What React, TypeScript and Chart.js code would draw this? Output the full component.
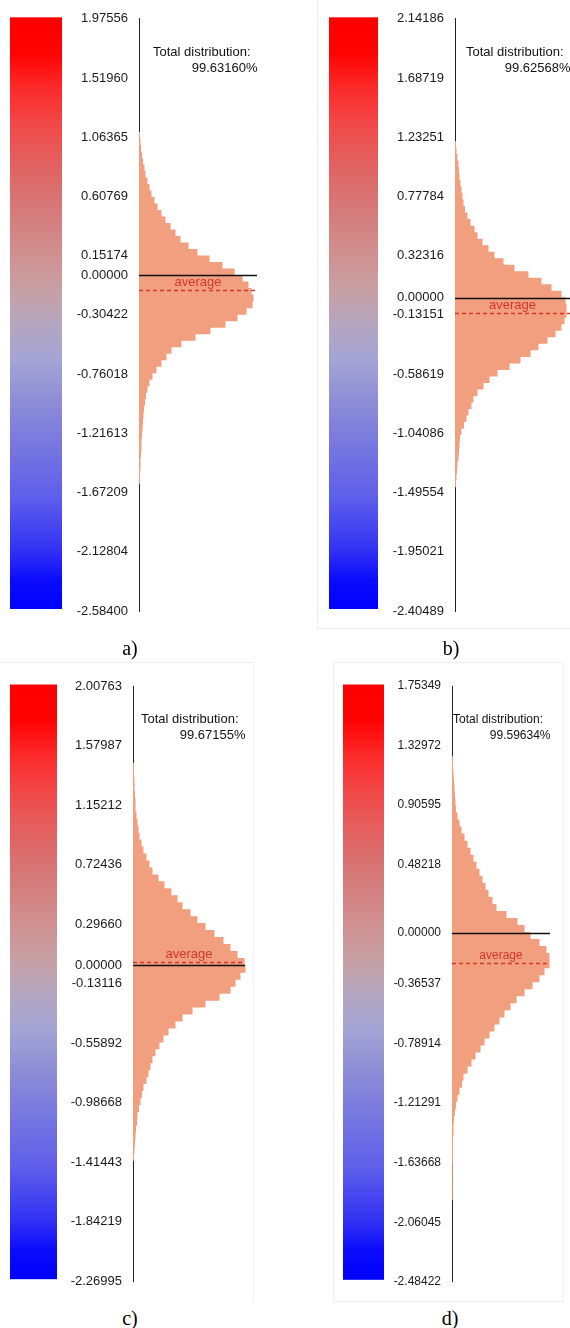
import React, { useEffect, useRef } from 'react';
import { Chart, registerables } from 'chart.js';

Chart.register(...registerables);

// ---------- data ----------
const BIN_STEP = 0.05;

// a)
const ticksA = [1.97556, 1.5196, 1.06365, 0.60769, 0.15174, 0, -0.30422, -0.76018, -1.21613, -1.67209, -2.12804, -2.584];
const firstBinA = 1.075;
const countsA = [0.5, 1, 1.5, 2.5, 3.5, 5, 6, 8, 10, 12, 15, 18, 22, 26, 31, 36, 41, 49, 58, 70, 83, 95, 103, 109, 112, 114, 113, 107, 98, 86, 71, 56, 42, 32, 27, 22, 17, 13, 10, 8, 6.5, 5.5, 4.5, 4, 3.5, 3, 2.5, 2, 2, 1.5, 1, 1, 0.5, 0.5];
const averageA = -0.114;
const totalA = '99.63160%';

// b)
const ticksB = [2.14186, 1.68719, 1.23251, 0.77784, 0.32316, 0, -0.13151, -0.58619, -1.04086, -1.49554, -1.95021, -2.40489];
const firstBinB = 1.175;
const countsB = [0.5, 1, 2, 3, 3.5, 4, 5, 6, 7, 8, 9.5, 12, 15, 19, 22, 27, 33, 39, 48, 59, 73, 86, 96, 106, 110, 111, 111, 109, 106, 100, 92, 83, 75, 65, 54, 42, 34, 28, 22, 18, 16, 13, 11, 8.5, 6, 4.5, 4, 3.5, 3, 2, 1.5, 1, 0.5];
const averageB = -0.116;
const totalB = '99.62568%';

// c)
const ticksC = [2.00763, 1.57987, 1.15212, 0.72436, 0.2966, 0, -0.13116, -0.55892, -0.98668, -1.41443, -1.84219, -2.26995];
const firstBinC = 1.425;
const countsC = [0.5, 0.5, 1, 1, 1.5, 2, 2, 3, 4, 5, 6, 8, 10, 13, 16, 19, 25, 31, 38, 44, 49, 57, 64, 72, 81, 90, 97, 104, 111, 112, 107, 102, 97, 86, 72, 59, 49, 42, 35, 30, 26, 22, 19, 17, 15, 13, 10, 8.5, 7, 5.5, 4, 3.5, 2.5, 2, 1.5, 1, 0.5];
const averageC = 0.026;
const totalC = '99.67155%';

// d)
const ticksD = [1.75349, 1.32972, 0.90595, 0.48218, 0, -0.36537, -0.78914, -1.21291, -1.63668, -2.06045, -2.48422];
const firstBinD = 1.225;
const countsD = [0.5, 0.5, 1, 1.5, 2, 2.5, 3, 3.5, 5, 7, 9, 12, 15, 18, 21, 24, 27, 30, 33, 36, 40, 44, 54, 65, 72, 78, 87, 94, 97, 97, 92, 87, 80, 72, 64, 58, 52, 47, 42, 37, 32, 28, 23, 19, 15, 11, 9.5, 7, 5, 3.5, 2.5, 1.5, 1, 1, 0.5, 0.5, 0.5, 0.5, 0.3, 0.3, 0.3, 0.3, 0.3];
const averageD = -0.214;
const totalD = '99.59634%';

const captions = ['a)', 'b)', 'c)', 'd)'];

// ---------- style ----------
const HIST_COLOR = '#f19f7e';
const AVG_COLOR = '#d3372c';
const FONT = '"Liberation Sans", Arial, sans-serif';
const GRADIENT: [number, string][] = [
  [0, '#ff0000'], [0.06, '#ff0202'], [0.12, '#fc2a2a'], [0.18, '#f24848'],
  [0.25, '#e26262'], [0.32, '#d67878'], [0.4, '#d09090'], [0.46, '#c8a0a4'],
  [0.52, '#b4a6c0'], [0.58, '#a4a4d6'], [0.64, '#9090d6'], [0.72, '#7878e0'],
  [0.81, '#5f5fea'], [0.9, '#3232f4'], [0.95, '#0c0cfc'], [1, '#0000ff'],
];

type PanelProps = {
  ticks: number[]; firstBin: number; counts: number[]; average: number; total: string;
  left: number; top: number; width: number; height: number;
  axisX: number; padTop: number; padBottom: number;
  barX0: number; barX1: number; lineEnd: number; fontSize: number; textGap: number;
};

function Panel(p: PanelProps) {
  const ref = useRef<HTMLCanvasElement>(null);
  useEffect(() => {
    const centers = p.counts.map((_, i) => p.firstBin - i * BIN_STEP);
    const xMax = p.width - p.axisX;
    const overlay = {
      id: 'overlay',
      beforeDatasetsDraw(chart: any) {
        const ctx = chart.ctx;
        const ys = chart.scales.y;
        const top = ys.top - 1.5;
        const bottom = ys.bottom - 2;
        const g = ctx.createLinearGradient(0, top, 0, bottom);
        GRADIENT.forEach(([o, c]) => g.addColorStop(o, c));
        ctx.save();
        ctx.fillStyle = g;
        ctx.fillRect(p.barX0, top, p.barX1 - p.barX0, bottom - top);
        ctx.restore();
      },
      afterDatasetsDraw(chart: any) {
        const ctx = chart.ctx;
        const xs = chart.scales.x;
        const ys = chart.scales.y;
        const x0 = xs.getPixelForValue(0);
        const x1 = xs.getPixelForValue(p.lineEnd);
        const y0 = Math.round(ys.getPixelForValue(0)) + 0.5;
        const ya = Math.round(ys.getPixelForValue(p.average)) + 0.5;
        ctx.save();
        ctx.strokeStyle = AVG_COLOR;
        ctx.lineWidth = 1.3;
        ctx.setLineDash([4, 3]);
        ctx.beginPath(); ctx.moveTo(x0, ya); ctx.lineTo(x1, ya); ctx.stroke();
        ctx.setLineDash([]);
        ctx.strokeStyle = '#111';
        ctx.lineWidth = 1.3;
        ctx.beginPath(); ctx.moveTo(x0, y0); ctx.lineTo(x1, y0); ctx.stroke();
        ctx.fillStyle = AVG_COLOR;
        ctx.font = `${p.fontSize}px ${FONT}`;
        ctx.textAlign = 'center';
        ctx.textBaseline = 'alphabetic';
        ctx.fillText('average', (x0 + x1) / 2, ya - 5);
        ctx.fillStyle = '#111';
        ctx.textAlign = 'right';
        ctx.fillText('Total distribution:', x1 - p.textGap, ys.top + 37);
        ctx.fillText(p.total, x1 + 0.5, ys.top + 53);
        ctx.restore();
      },
    };
    const chart = new Chart(ref.current as HTMLCanvasElement, {
      type: 'bar',
      data: {
        datasets: [
          {
            data: p.counts.map((c, i) => ({ x: c, y: centers[i] })) as any,
            backgroundColor: HIST_COLOR,
            borderWidth: 0,
            barPercentage: 1,
            categoryPercentage: 1,
            inflateAmount: 0.5,
          } as any,
        ],
      },
      options: {
        indexAxis: 'y',
        responsive: false,
        animation: false,
        devicePixelRatio: 1,
        layout: { padding: { top: p.padTop, bottom: p.padBottom, left: 0, right: 0 } },
        plugins: { legend: { display: false }, tooltip: { enabled: false } },
        scales: {
          x: { type: 'linear', display: false, min: 0, max: xMax, offset: false },
          y: {
            type: 'linear',
            position: 'left',
            offset: false,
            min: p.ticks[p.ticks.length - 1],
            max: p.ticks[0],
            z: 1,
            grid: { display: false, drawTicks: false, offset: false },
            border: { display: true, color: '#222', width: 1 },
            ticks: {
              autoSkip: false,
              padding: 11,
              color: '#1a1a1a',
              font: { family: FONT, size: p.fontSize },
              callback: (v: any) => Number(v).toFixed(5),
            },
            afterBuildTicks: (s: any) => { s.ticks = p.ticks.map((v) => ({ value: v })); },
            afterFit: (s: any) => { s.width = p.axisX; },
          },
        },
      } as any,
      plugins: [overlay],
    });
    return () => chart.destroy();
  }, []);
  return (
    <canvas
      ref={ref}
      width={p.width}
      height={p.height}
      style={{ position: 'absolute', left: p.left, top: p.top, width: p.width, height: p.height }}
    />
  );
}

const captionStyle = (cx: number, cy: number): React.CSSProperties => ({
  position: 'absolute', left: cx - 30, width: 60, top: cy - 12, height: 24, lineHeight: '24px',
  textAlign: 'center', fontFamily: '"Liberation Serif", "Times New Roman", serif', fontSize: 20, color: '#000',
});

export default function App() {
  return (
    <div style={{ position: 'absolute', left: 0, top: 0, width: 570, height: 1328, background: '#fff', overflow: 'hidden' }}>
      <div style={{ position: 'absolute', left: 317, top: 0, width: 260, height: 628, borderLeft: '1px solid #eeeeee', borderBottom: '1px solid #eeeeee' }} />
      <div style={{ position: 'absolute', left: -2, top: 662, width: 255, height: 640, borderTop: '1px solid #eeeeee', borderRight: '1px solid #f2f2f2' }} />
      <div style={{ position: 'absolute', left: 333, top: 662, width: 229, height: 638, border: '1px solid #eeeeee' }} />

      <Panel ticks={ticksA} firstBin={firstBinA} counts={countsA} average={averageA} total={totalA}
        left={0} top={0} width={285} height={630} axisX={139} padTop={17} padBottom={19}
        barX0={10} barX1={62} lineEnd={118} fontSize={13} textGap={6.5} />
      <Panel ticks={ticksB} firstBin={firstBinB} counts={countsB} average={averageB} total={totalB}
        left={285} top={0} width={285} height={630} axisX={170} padTop={16} padBottom={19}
        barX0={44} barX1={93} lineEnd={115} fontSize={13} textGap={6.5} />
      <Panel ticks={ticksC} firstBin={firstBinC} counts={countsC} average={averageC} total={totalC}
        left={0} top={640} width={285} height={660} axisX={133} padTop={46} padBottom={17}
        barX0={10} barX1={57} lineEnd={112} fontSize={13} textGap={6.5} />
      <Panel ticks={ticksD} firstBin={firstBinD} counts={countsD} average={averageD} total={totalD}
        left={285} top={640} width={285} height={660} axisX={167} padTop={46} padBottom={17}
        barX0={58} barX1={99} lineEnd={98} fontSize={12} textGap={7} />

      <div style={captionStyle(130, 648)}>{captions[0]}</div>
      <div style={captionStyle(451, 648)}>{captions[1]}</div>
      <div style={captionStyle(130, 1318)}>{captions[2]}</div>
      <div style={captionStyle(450, 1318)}>{captions[3]}</div>
    </div>
  );
}
